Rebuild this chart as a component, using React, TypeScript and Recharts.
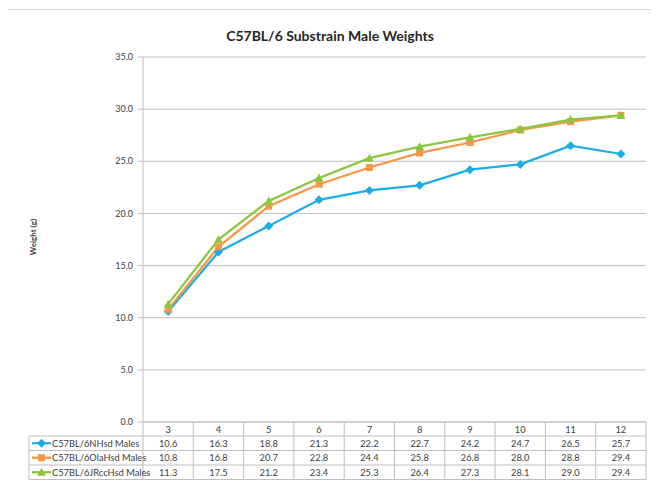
import { LineChart, Line, XAxis, YAxis, CartesianGrid } from 'recharts';

const WEEKS = ['3', '4', '5', '6', '7', '8', '9', '10', '11', '12'];
const NHSD = [10.6, 16.3, 18.8, 21.3, 22.2, 22.7, 24.2, 24.7, 26.5, 25.7];
const OLAHSD = [10.8, 16.8, 20.7, 22.8, 24.4, 25.8, 26.8, 28.0, 28.8, 29.4];
const JRCCHSD = [11.3, 17.5, 21.2, 23.4, 25.3, 26.4, 27.3, 28.1, 29.0, 29.4];
const Y_TICKS = [0, 5, 10, 15, 20, 25, 30, 35];

const SERIES = [
  { key: 'nhsd', name: 'C57BL/6NHsd Males', values: NHSD, color: '#1CADE4', shape: 'diamond' },
  { key: 'olahsd', name: 'C57BL/6OlaHsd Males', values: OLAHSD, color: '#F79646', shape: 'square' },
  { key: 'jrcchsd', name: 'C57BL/6JRccHsd Males', values: JRCCHSD, color: '#8CC63F', shape: 'triangle' },
];

const data = WEEKS.map((w, i) => ({ week: w, nhsd: NHSD[i], olahsd: OLAHSD[i], jrcchsd: JRCCHSD[i] }));

// layout
const W = 651;
const H = 482;
const LEFT = 135;
const RIGHT_M = 13;
const TOP = 49;
const AXIS_H = 68;
const PLOT_BOTTOM = H - AXIS_H;
const BAND = (W - LEFT - RIGHT_M) / WEEKS.length;
const HEADER_H = 14;
const ROW_H = 14.5;
const LEG_X = 21;
const GRID = '#BFBFBF';
const TEXT = '#404040';
const FONT = 'Lato, "Open Sans", sans-serif';

function Marker({ cx, cy, shape, color }: any) {
  if (cx == null || cy == null) return null;
  if (shape === 'diamond')
    return <path d={`M${cx},${cy - 4.5}L${cx + 4.5},${cy}L${cx},${cy + 4.5}L${cx - 4.5},${cy}Z`} fill={color} />;
  if (shape === 'square') return <rect x={cx - 3.5} y={cy - 3.5} width={7} height={7} fill={color} />;
  return <path d={`M${cx},${cy - 4.5}L${cx + 4.5},${cy + 3.5}L${cx - 4.5},${cy + 3.5}Z`} fill={color} />;
}

function LegendKey({ x, y, s }: any) {
  return (
    <g>
      <line x1={x} y1={y} x2={x + 19} y2={y} stroke={s.color} strokeWidth={2.25} />
      <Marker cx={x + 9.5} cy={y} shape={s.shape} color={s.color} />
    </g>
  );
}

function TableTick(props: any) {
  const { x, payload, index } = props;
  const y0 = PLOT_BOTTOM;
  const left = x - BAND / 2;
  const right = x + BAND / 2;
  const bottom = y0 + HEADER_H + ROW_H * SERIES.length;
  return (
    <g fontFamily={FONT} fontSize={9.3} fill={TEXT}>
      <line x1={right} y1={y0} x2={right} y2={bottom} stroke={GRID} />
      <text x={x} y={y0 + HEADER_H / 2} textAnchor="middle" dominantBaseline="central">{payload.value}</text>
      {SERIES.map((s, r) => {
        const top = y0 + HEADER_H + ROW_H * r;
        return (
          <g key={s.key}>
            <line x1={left} y1={top} x2={right} y2={top} stroke={GRID} />
            <text x={x} y={top + ROW_H / 2} textAnchor="middle" dominantBaseline="central">
              {s.values[index].toFixed(1)}
            </text>
          </g>
        );
      })}
      <line x1={left} y1={bottom} x2={right} y2={bottom} stroke={GRID} />
      {index === 0 && (
        <g>
          <line x1={left} y1={y0} x2={left} y2={bottom} stroke={GRID} />
          <line x1={LEG_X} y1={y0 + HEADER_H} x2={LEG_X} y2={bottom} stroke={GRID} />
          {SERIES.map((s, r) => {
            const top = y0 + HEADER_H + ROW_H * r;
            return (
              <g key={s.key}>
                <line x1={LEG_X} y1={top} x2={left} y2={top} stroke={GRID} />
                <LegendKey x={LEG_X + 3} y={top + ROW_H / 2} s={s} />
                <text x={LEG_X + 23} y={top + ROW_H / 2} dominantBaseline="central">{s.name}</text>
              </g>
            );
          })}
          <line x1={LEG_X} y1={bottom} x2={left} y2={bottom} stroke={GRID} />
        </g>
      )}
    </g>
  );
}

export default function App() {
  return (
    <div style={{ position: 'relative', width: W, height: H }}>
      <div
        style={{
          position: 'absolute', left: -1, top: 1, width: 645, height: 500,
          border: '1px solid #D9D9D9', boxSizing: 'border-box',
        }}
      />
      <div
        style={{
          position: 'absolute', left: 0, top: 21, width: 644, textAlign: 'center',
          fontFamily: FONT, fontWeight: 700, fontSize: 14, lineHeight: '14px', color: '#262626',
        }}
      >
        C57BL/6 Substrain Male Weights
      </div>
      <LineChart width={W} height={H} data={data} margin={{ top: TOP, right: RIGHT_M, left: 0, bottom: 0 }}>
        <CartesianGrid vertical={false} stroke={GRID} />
        <XAxis
          dataKey="week"
          scale="band"
          height={AXIS_H}
          tickLine={false}
          tickSize={0}
          tickMargin={0}
          axisLine={{ stroke: GRID }}
          interval={0}
          tick={<TableTick />}
        />
        <YAxis
          width={LEFT}
          domain={[0, 35]}
          ticks={Y_TICKS}
          tickFormatter={(v: number) => v.toFixed(1)}
          tick={{ fontSize: 9, fill: TEXT, fontFamily: FONT }}
          tickSize={5}
          tickMargin={5}
          stroke={GRID}
          label={{
            content: () => (
              <text
                x={25} y={229} transform="rotate(-90 25 229)" textAnchor="middle" dominantBaseline="central"
                fontFamily={FONT} fontSize={8} fontWeight={700} fill={TEXT}
              >
                Weight (g)
              </text>
            ),
          }}
        />
        {SERIES.map((s) => (
          <Line
            key={s.key}
            dataKey={s.key}
            name={s.name}
            stroke={s.color}
            strokeWidth={2.25}
            isAnimationActive={false}
            dot={(p: any) => <Marker key={`${s.key}-${p.index}`} cx={p.cx} cy={p.cy} shape={s.shape} color={s.color} />}
            activeDot={false}
          />
        ))}
      </LineChart>
    </div>
  );
}
